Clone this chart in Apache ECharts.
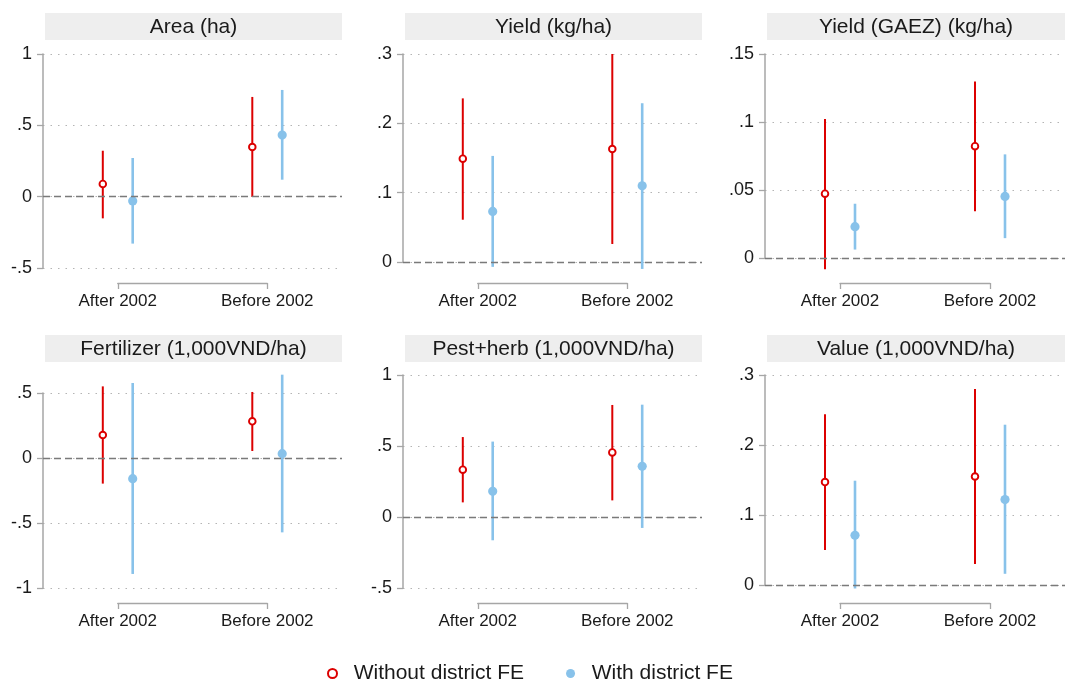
<!DOCTYPE html>
<html>
<head>
<meta charset="utf-8">
<script src="https://cdn.jsdelivr.net/npm/echarts@6/dist/echarts.min.js"></script>
<style>
  html, body { margin: 0; padding: 0; background: #ffffff; }
  #chart { width: 1065px; height: 684px; }
</style>
</head>
<body>
<div id="chart"></div>
<script>
// ---------------- data ----------------
const categories = ['After 2002', 'Before 2002'];
const seriesNames = ['Without district FE', 'With district FE'];
const panelTitles = ['Area (ha)', 'Yield (kg/ha)', 'Yield (GAEZ) (kg/ha)',
                     'Fertilizer (1,000VND/ha)', 'Pest+herb (1,000VND/ha)', 'Value (1,000VND/ha)'];

// each row: [estimate, lower CI, upper CI] for After 2002, Before 2002
const areaNoFE   = [[0.089, -0.152, 0.322], [0.348, -0.002, 0.699]];
const areaFE     = [[-0.030, -0.329, 0.271], [0.432, 0.119, 0.748]];
const yieldNoFE  = [[0.149, 0.061, 0.236], [0.163, 0.026, 0.300]];
const yieldFE    = [[0.073, -0.007, 0.153], [0.110, -0.010, 0.229]];
const gaezNoFE   = [[0.0473, -0.0082, 0.1022], [0.0822, 0.0344, 0.1297]];
const gaezFE     = [[0.0230, 0.0062, 0.0399], [0.0453, 0.0146, 0.0762]];
const fertNoFE   = [[0.177, -0.197, 0.551], [0.282, 0.054, 0.508]];
const fertFE     = [[-0.159, -0.892, 0.577], [0.033, -0.572, 0.641]];
const pestNoFE   = [[0.333, 0.103, 0.563], [0.455, 0.117, 0.789]];
const pestFE     = [[0.181, -0.164, 0.531], [0.357, -0.077, 0.791]];
const valueNoFE  = [[0.147, 0.050, 0.244], [0.155, 0.030, 0.280]];
const valueFE    = [[0.071, -0.005, 0.149], [0.122, 0.016, 0.229]];

// y-axis tick labels per panel
const areaTicks  = [-0.5, 0, 0.5, 1];
const yieldTicks = [0, 0.1, 0.2, 0.3];
const gaezTicks  = [0, 0.05, 0.1, 0.15];
const fertTicks  = [-1, -0.5, 0, 0.5];
const pestTicks  = [-0.5, 0, 0.5, 1];
const valueTicks = [0, 0.1, 0.2, 0.3];

const panelNoFE  = [areaNoFE, yieldNoFE, gaezNoFE, fertNoFE, pestNoFE, valueNoFE];
const panelFE    = [areaFE, yieldFE, gaezFE, fertFE, pestFE, valueFE];
const panelTicks = [areaTicks, yieldTicks, gaezTicks, fertTicks, pestTicks, valueTicks];

// ---------------- layout & style ----------------
const RED = '#dc0000';
const BLUE = '#88c2ea';
const AXIS_GRAY = '#a6a6a6';
const FONT = '"Liberation Sans", Arial, sans-serif';
const colLeft = [43, 403, 765];
const colWidth = [299, 299, 300];
const layout = [
  { col: 0, top: 54,  height: 214, titleY: 13,  bracketY: 283 },
  { col: 1, top: 54,  height: 208, titleY: 13,  bracketY: 283 },
  { col: 2, top: 54,  height: 204, titleY: 13,  bracketY: 283 },
  { col: 0, top: 393, height: 195, titleY: 335, bracketY: 603 },
  { col: 1, top: 375, height: 213, titleY: 335, bracketY: 603 },
  { col: 2, top: 375, height: 210, titleY: 335, bracketY: 603 }
];
const OFFSET = 0.1; // horizontal dodge of the two estimates around each category

function stataLabel(v) {
  const s = (+v.toFixed(6)).toString();
  return s.replace(/^(-?)0\./, '$1.');
}

function makeRender(offset, color, hollow) {
  return function (params, api) {
    const x = api.value(0) + offset;
    const pm = api.coord([x, api.value(1)]);
    const pl = api.coord([x, api.value(2)]);
    const ph = api.coord([x, api.value(3)]);
    return {
      type: 'group',
      children: [
        { type: 'line', shape: { x1: pl[0], y1: pl[1], x2: ph[0], y2: ph[1] },
          style: { stroke: color, lineWidth: hollow ? 2 : 2.6 } },
        { type: 'circle', shape: { cx: pm[0], cy: pm[1], r: hollow ? 3.3 : 4.6 },
          style: hollow ? { fill: '#ffffff', stroke: color, lineWidth: 1.9 }
                        : { fill: color, stroke: null } }
      ]
    };
  };
}

const grids = [], xAxes = [], yAxes = [], series = [], graphics = [];

panelTitles.forEach((title, i) => {
  const L = layout[i];
  const left = colLeft[L.col], width = colWidth[L.col];
  const ticks = panelTicks[i];
  const gMain = grids.length;
  grids.push({ left: left, top: L.top, width: width, height: L.height });
  xAxes.push({ gridIndex: gMain, type: 'value', min: 0.5, max: 2.5, show: false });
  yAxes.push({
    gridIndex: gMain, type: 'value',
    min: ticks[0], max: ticks[ticks.length - 1], interval: ticks[1] - ticks[0],
    axisLine: { show: true, lineStyle: { color: AXIS_GRAY, width: 1.5 } },
    axisTick: { show: true, length: 6, lineStyle: { color: AXIS_GRAY, width: 1.3 } },
    axisLabel: { margin: 11, color: '#1a1a1a', fontSize: 18, fontFamily: FONT, formatter: stataLabel },
    splitLine: { show: true, lineStyle: { color: '#b4b4b4', width: 1, type: [1.5, 6] } }
  });

  const gBr = grids.length;
  grids.push({ left: left + width / 4, width: width / 2, top: L.bracketY - 10, height: 10 });
  xAxes.push({
    gridIndex: gBr, type: 'value', min: 1, max: 2, interval: 1, position: 'bottom',
    axisLine: { show: true, lineStyle: { color: AXIS_GRAY, width: 1.3 } },
    axisTick: { show: true, length: 6, lineStyle: { color: AXIS_GRAY, width: 1.3 } },
    axisLabel: { margin: 10, color: '#1a1a1a', fontSize: 17, fontFamily: FONT,
                 formatter: v => categories[Math.round(v) - 1] || '' },
    splitLine: { show: false }
  });
  yAxes.push({ gridIndex: gBr, type: 'value', min: 0, max: 1, show: false });

  // zero reference line
  series.push({
    type: 'line', xAxisIndex: gMain, yAxisIndex: gMain, data: [], z: 1, silent: true,
    markLine: {
      silent: true, symbol: 'none', animation: false, label: { show: false },
      lineStyle: { type: [7, 4], color: '#7a7a7a', width: 1.3 },
      data: [{ yAxis: 0 }]
    }
  });

  const toData = arr => arr.map((r, k) => [k + 1, r[0], r[1], r[2]]);
  series.push({
    type: 'custom', name: seriesNames[0], xAxisIndex: gMain, yAxisIndex: gMain, z: 3,
    clip: false, itemStyle: { color: RED },
    encode: { x: 0, y: [1, 2, 3] },
    renderItem: makeRender(-OFFSET, RED, true),
    data: toData(panelNoFE[i])
  });
  series.push({
    type: 'custom', name: seriesNames[1], xAxisIndex: gMain, yAxisIndex: gMain, z: 3,
    clip: false, itemStyle: { color: BLUE },
    encode: { x: 0, y: [1, 2, 3] },
    renderItem: makeRender(OFFSET, BLUE, false),
    data: toData(panelFE[i])
  });

  graphics.push({
    type: 'rect', x: left + 2, y: L.titleY, shape: { width: width - 2, height: 27 },
    style: { fill: '#eeeeee' }, silent: true
  });
  graphics.push({
    type: 'text', x: left + 1 + width / 2, y: L.titleY + 14,
    style: { text: title, align: 'center', verticalAlign: 'middle',
             font: '21px ' + FONT, fill: '#1a1a1a' }, silent: true
  });
});

const chart = echarts.init(document.getElementById('chart'), null, { renderer: 'canvas' });
chart.setOption({
  backgroundColor: '#ffffff',
  animation: false,
  grid: grids,
  xAxis: xAxes,
  yAxis: yAxes,
  series: series,
  graphic: { elements: graphics },
  legend: {
    left: 327, top: 663, padding: 0, itemGap: 42, itemWidth: 9, itemHeight: 9,
    selectedMode: false,
    formatter: name => '  ' + name,
    textStyle: { fontSize: 21, fontFamily: FONT, color: '#1a1a1a' },
    data: [
      { name: seriesNames[0], icon: 'circle',
        itemStyle: { color: '#ffffff', borderColor: RED, borderWidth: 2 } },
      { name: seriesNames[1], icon: 'circle',
        itemStyle: { color: BLUE, borderWidth: 0 } }
    ]
  }
});
</script>
</body>
</html>
